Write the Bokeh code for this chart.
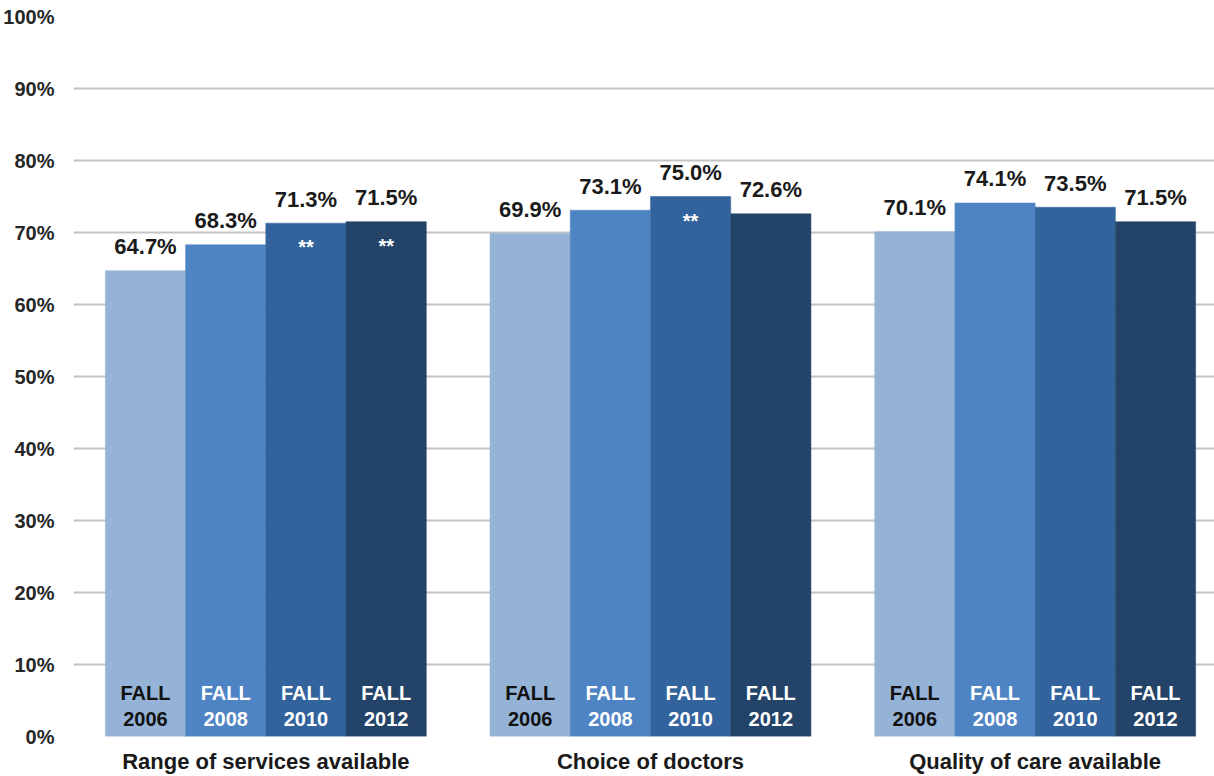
from bokeh.plotting import figure
from bokeh.models import Range1d, FixedTicker, ColumnDataSource
from bokeh.core.properties import value
from bokeh.embed import file_html
from bokeh.resources import INLINE

categories = ["Range of services available", "Choice of doctors", "Quality of care available"]
years = ["2006", "2008", "2010", "2012"]
v2006 = [64.7, 69.9, 70.1]
v2008 = [68.3, 73.1, 74.1]
v2010 = [71.3, 75.0, 73.5]
v2012 = [71.5, 72.6, 71.5]
sig2006 = [False, False, False]
sig2008 = [False, False, False]
sig2010 = [True, True, False]
sig2012 = [True, False, False]
y_ticks = [0, 10, 20, 30, 40, 50, 60, 70, 80, 90, 100]
y_tick_labels = ["0%", "10%", "20%", "30%", "40%", "50%", "60%", "70%", "80%", "90%", "100%"]

series = [v2006, v2008, v2010, v2012]
sigs = [sig2006, sig2008, sig2010, sig2012]
colors = ["#95B3D7", "#4F84C4", "#33639C", "#234368"]
label_colors = ["#111111", "#ffffff", "#ffffff", "#ffffff"]

FONT = "Liberation Sans"

W, H = 1214, 776
BL, BT, BB = 72, 16, 40
frame_w = W - BL
group_px = 385.0
bar_w = 80.3 / group_px

p = figure(width=W, height=H, output_backend="svg", toolbar_location=None,
           x_range=Range1d(0, frame_w / group_px), y_range=Range1d(0, 100),
           min_border_left=BL, min_border_right=0, min_border_top=BT, min_border_bottom=BB)
p.outline_line_color = None
p.background_fill_color = "white"
p.border_fill_color = "white"

p.xgrid.grid_line_color = None
p.ygrid.grid_line_color = "#C4C4C4"
p.ygrid.grid_line_width = 2
p.ygrid.ticker = FixedTicker(ticks=y_ticks)

p.yaxis.ticker = FixedTicker(ticks=y_ticks)
p.yaxis.major_label_overrides = {t: l for t, l in zip(y_ticks, y_tick_labels)}
p.yaxis.axis_line_color = None
p.yaxis.major_tick_line_color = None
p.yaxis.minor_tick_line_color = None
p.yaxis.major_tick_out = 0
p.yaxis.minor_tick_out = 0
p.yaxis.major_label_text_font = FONT
p.yaxis.major_label_text_font_style = "bold"
p.yaxis.major_label_text_font_size = "20px"
p.yaxis.major_label_text_color = "#262626"
p.yaxis.major_label_standoff = 19

centers = [i + 0.5 for i in range(len(categories))]
p.xaxis.ticker = FixedTicker(ticks=centers)
p.xaxis.major_label_overrides = {c: l for c, l in zip(centers, categories)}
p.xaxis.axis_line_color = None
p.xaxis.major_tick_line_color = None
p.xaxis.minor_tick_line_color = None
p.xaxis.major_tick_out = 0
p.xaxis.minor_tick_out = 0
p.xaxis.major_label_text_font = FONT
p.xaxis.major_label_text_font_style = "bold"
p.xaxis.major_label_text_font_size = "22px"
p.xaxis.major_label_text_color = "#1a1a1a"
p.xaxis.major_label_standoff = 12

for j, (vals, sg) in enumerate(zip(series, sigs)):
    xs = [c + (j - 1.5) * bar_w for c in centers]
    src = ColumnDataSource(dict(
        x=xs, top=vals,
        lab=["%.1f%%" % v for v in vals],
        star=["**" if s else "" for s in sg],
        zero=[0] * len(vals),
    ))
    p.vbar(x="x", top="top", bottom=0, width=bar_w, source=src,
           fill_color=colors[j], line_color=colors[j], line_width=0.5)
    p.text(x="x", y="top", text="lab", source=src, text_align="center",
           text_baseline="alphabetic", y_offset=-24,
           text_font=value(FONT), text_font_style="bold", text_font_size="22px",
           text_color="#1a1a1a")
    p.text(x="x", y="top", text="star", source=src, text_align="center",
           text_baseline="alphabetic", y_offset=24,
           text_font=value(FONT), text_font_style="bold", text_font_size="20px",
           text_color="white")
    p.text(x="x", y="zero", text=value("FALL"), source=src, text_align="center",
           text_baseline="alphabetic", y_offset=-44,
           text_font=value(FONT), text_font_style="bold", text_font_size="20px",
           text_color=label_colors[j])
    p.text(x="x", y="zero", text=value(years[j]), source=src, text_align="center",
           text_baseline="alphabetic", y_offset=-18,
           text_font=value(FONT), text_font_style="bold", text_font_size="20px",
           text_color=label_colors[j])

open("out.html", "w").write(file_html(p, INLINE))
